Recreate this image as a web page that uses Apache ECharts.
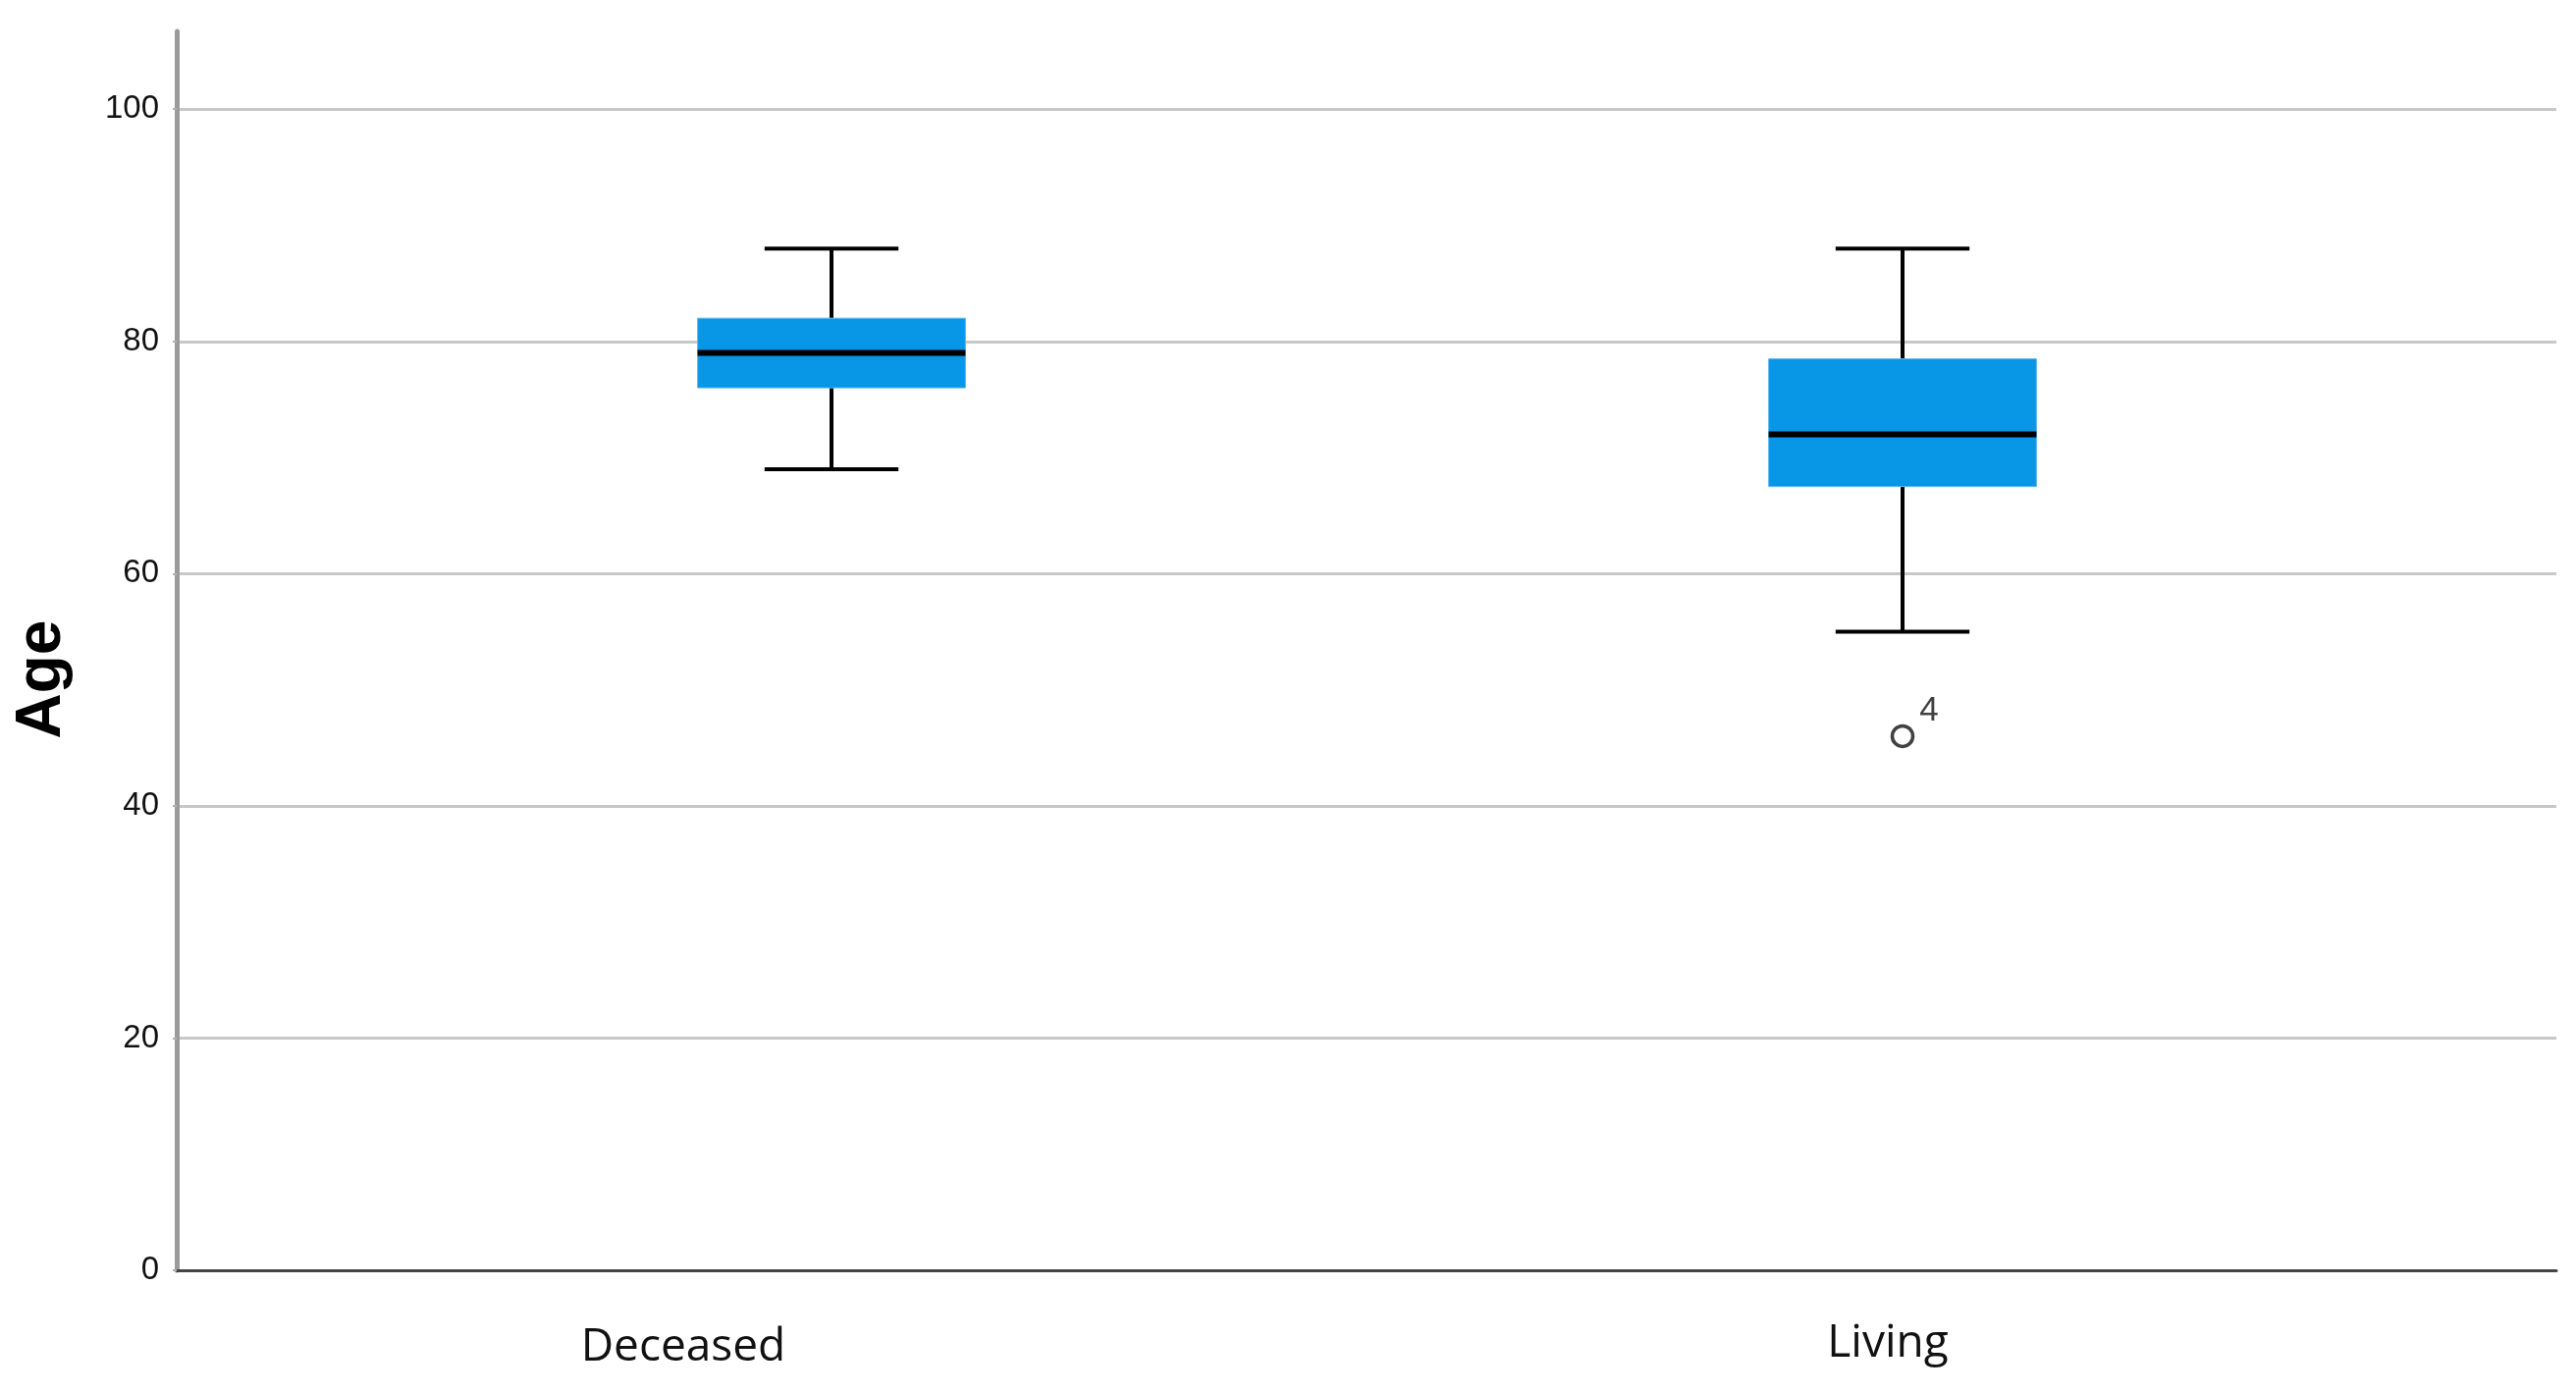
<!DOCTYPE html>
<html>
<head>
<meta charset="utf-8">
<script src="https://cdn.jsdelivr.net/npm/echarts@6/dist/echarts.min.js"></script>
<style>
  html, body { margin: 0; padding: 0; background: #ffffff; }
  #chart { width: 2624px; height: 1419px; }
</style>
</head>
<body>
<div id="chart"></div>
<script>
// ---- data ----
const categories = ['Deceased', 'Living'];
const whiskerLow  = [69, 55];
const q1          = [76, 67.5];
const median      = [79, 72];
const q3          = [82, 78.5];
const whiskerHigh = [88, 88];
const outlierCategory = [1];
const outlierValue    = [46];
const outlierLabel    = ['4'];
const yTicks = [0, 20, 40, 60, 80, 100];
const yAxisTitle = 'Age';

// ---- build ----
const boxData = categories.map((c, i) => [i, whiskerLow[i], q1[i], median[i], q3[i], whiskerHigh[i]]);
const outlierData = outlierValue.map((v, i) => ({ value: [outlierCategory[i], v], name: outlierLabel[i] }));

const yMax = 106.7;
const BOX_COLOR = '#0896e6';

function renderBox(params, api) {
  const idx = api.value(0);
  const bandW = api.size([1, 0])[0];
  const boxW = bandW * 0.25;
  const capW = boxW / 2;
  const pMin = api.coord([idx, api.value(1)]);
  const pQ1 = api.coord([idx, api.value(2)]);
  const pMed = api.coord([idx, api.value(3)]);
  const pQ3 = api.coord([idx, api.value(4)]);
  const pMax = api.coord([idx, api.value(5)]);
  const cx = pMed[0];
  const lineStyle = { stroke: '#000000', lineWidth: 4 };
  return {
    type: 'group',
    children: [
      { type: 'line', shape: { x1: cx, y1: pMax[1], x2: cx, y2: pQ3[1] }, style: lineStyle },
      { type: 'line', shape: { x1: cx, y1: pQ1[1], x2: cx, y2: pMin[1] }, style: lineStyle },
      { type: 'line', shape: { x1: cx - capW / 2, y1: pMax[1], x2: cx + capW / 2, y2: pMax[1] }, style: lineStyle },
      { type: 'line', shape: { x1: cx - capW / 2, y1: pMin[1], x2: cx + capW / 2, y2: pMin[1] }, style: lineStyle },
      { type: 'rect', shape: { x: cx - boxW / 2, y: pQ3[1], width: boxW, height: pQ1[1] - pQ3[1] },
        style: { fill: BOX_COLOR, stroke: '#5db8ef', lineWidth: 1 } },
      { type: 'line', shape: { x1: cx - boxW / 2, y1: pMed[1], x2: cx + boxW / 2, y2: pMed[1] },
        style: { stroke: '#000000', lineWidth: 6 } }
    ]
  };
}

const chart = echarts.init(document.getElementById('chart'), null, { renderer: 'canvas' });
chart.setOption({
  backgroundColor: '#ffffff',
  animation: false,
  grid: [
    { left: 180, right: 20, top: 32, bottom: 125 },
    { left: 301.5, right: 140.5, top: 32, bottom: 125 }
  ],
  xAxis: [
    { gridIndex: 0, type: 'category', data: [''],
      axisLine: { show: true, lineStyle: { color: '#444444', width: 3 } },
      axisTick: { show: false }, axisLabel: { show: false }, splitLine: { show: false } },
    { gridIndex: 1, type: 'category', data: categories,
      axisLine: { show: false }, axisTick: { show: false }, splitLine: { show: false },
      axisLabel: {
        margin: 50,
        fontFamily: 'Open Sans', fontSize: 46, color: '#111111',
        formatter: function (v) { return v === 'Deceased' ? '{a|' + v + '}' : '{b|' + v + '}'; },
        rich: {
          a: { fontFamily: 'Open Sans', fontSize: 46, color: '#111111', lineHeight: 46, padding: [11, 302, 0, 0] },
          b: { fontFamily: 'Open Sans', fontSize: 46, color: '#111111', lineHeight: 46, padding: [3, 30, 0, 0] }
        }
      } }
  ],
  yAxis: [
    { gridIndex: 0, type: 'value', min: 0, max: yMax, interval: 20,
      name: yAxisTitle, nameLocation: 'middle', nameRotate: 90, nameGap: 105,
      nameTextStyle: { fontFamily: 'Liberation Sans', fontWeight: 'bold', fontSize: 64, color: '#000000', padding: [0, 58, 0, 0] },
      axisLine: { show: true, lineStyle: { color: '#9a9a9a', width: 5 } },
      axisTick: { show: true, length: 4, lineStyle: { color: '#b0b0b0', width: 2 } },
      axisLabel: { margin: 18, fontFamily: 'Liberation Sans', fontSize: 33, color: '#111111', showMaxLabel: false,
        padding: [24, 0, 0, 0],
        formatter: function (v) { return yTicks.indexOf(v) >= 0 ? String(v) : ''; } },
      splitLine: { show: true, showMinLine: false, showMaxLine: false, lineStyle: { color: '#c8c8c8', width: 3 } } },
    { gridIndex: 1, type: 'value', min: 0, max: yMax, interval: 20, show: false, splitLine: { show: false } }
  ],
  series: [
    { type: 'custom', xAxisIndex: 1, yAxisIndex: 1, data: boxData, renderItem: renderBox, z: 5 },
    { type: 'scatter', xAxisIndex: 1, yAxisIndex: 1, data: outlierData, z: 6,
      symbol: 'circle', symbolSize: 21,
      itemStyle: { color: '#ffffff', borderColor: '#111111', borderWidth: 3.5 },
      label: { show: true, position: 'right', distance: 5, offset: [0, -26], formatter: '{b}',
        fontFamily: 'Liberation Sans', fontSize: 35, color: '#111111' } }
  ]
});
</script>
</body>
</html>
